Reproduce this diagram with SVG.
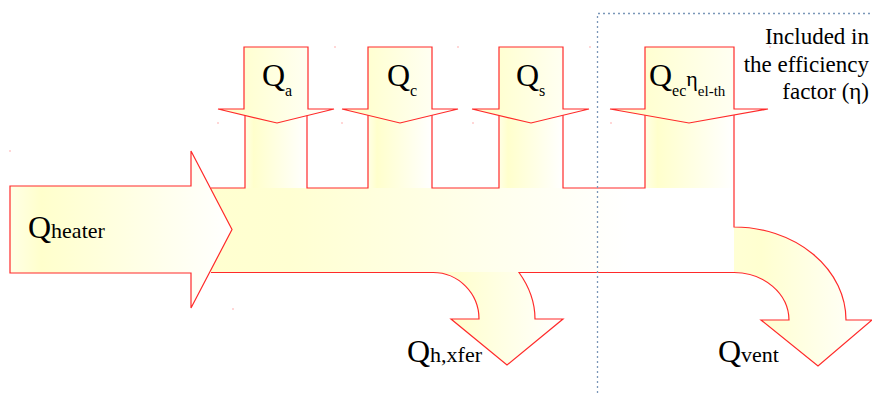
<svg xmlns="http://www.w3.org/2000/svg" width="872" height="393" viewBox="0 0 872 393">
<defs>
<linearGradient id="g" x1="0" y1="0" x2="1" y2="0">
<stop offset="0" stop-color="#ffffe6"/>
<stop offset="0.14" stop-color="#ffffcc"/>
<stop offset="1" stop-color="#ffffff"/>
</linearGradient>
<linearGradient id="gv" x1="0" y1="0" x2="1" y2="0">
<stop offset="0" stop-color="#ffffd4"/>
<stop offset="0.2" stop-color="#ffffd0"/>
<stop offset="1" stop-color="#ffffff"/>
</linearGradient>
<linearGradient id="gb" gradientUnits="userSpaceOnUse" x1="211" y1="0" x2="734" y2="0">
<stop offset="0" stop-color="#ffffd0"/>
<stop offset="0.15" stop-color="#ffffd2"/>
<stop offset="0.8" stop-color="#ffffff"/>
</linearGradient>
</defs>
<g id="flow">
<rect x="211" y="188" width="523" height="84.5" fill="url(#gb)"/>
<g fill="url(#g)">
<rect x="245" y="110" width="62" height="78"/>
<rect x="368" y="110" width="64" height="78"/>
<rect x="499" y="110" width="64" height="78"/>
<rect x="645" y="110" width="89" height="78"/>
</g>
<path fill="url(#gv)" d="M433,272 A46 46 0 0 1 479 319 H451 L507 365 L563 319 H535 C535,300 528,285 519,272 Z"/>
<path fill="url(#gv)" d="M734,227 A112 93 0 0 1 846 320 H872 L818 366 L761 320 H789 A55 48 0 0 0 734 272 Z"/>
<path fill="none" stroke="#ff2a2a" stroke-width="1.2" d="M211,188 H245 V112 M307,112 V188 H368 V112 M432,112 V188 H499 V112 M563,112 V188 H645 V112 M734,112 V227 A112 93 0 0 1 846 320 H872 L818 366 L761 320 H789 A55 48 0 0 0 734 272.5 H519 C528,285 535,300 535,319 H563 L507 365 L451 319 H479 A46 46.5 0 0 0 433 272.5 H211"/>
</g>
<g id="heater-arrow" fill="url(#g)" stroke="#ff2a2a" stroke-width="1.2"><path d="M10,186 H191 V151 L232 229.5 L191 308 V273 H10 Z"/></g>
<g id="qa-arrow" fill="url(#g)" stroke="#ff2a2a" stroke-width="1.2"><path d="M244,47 H308 V109 H334 L277 123 L218 109 H244 Z"/></g>
<g id="qc-arrow" fill="url(#g)" stroke="#ff2a2a" stroke-width="1.2"><path d="M368,47 H432 V109 H458 L400 123 L342 109 H368 Z"/></g>
<g id="qs-arrow" fill="url(#g)" stroke="#ff2a2a" stroke-width="1.2"><path d="M499,47 H563 V109 H589 L531 123 L472 109 H499 Z"/></g>
<g id="qec-arrow" fill="url(#g)" stroke="#ff2a2a" stroke-width="1.2"><path d="M645,47 H734 V109 H768 L689 123 L610 109 H645 Z"/></g>
<path id="boundary" d="M597.5,393 V13.5 H872" fill="none" stroke="#7a96b8" stroke-width="1.3" stroke-dasharray="2 3"/>
<text id="heater" x="28" y="238" font-family="Liberation Serif" font-size="22"><tspan font-size="32">Q</tspan>heater</text>
<text id="qa" x="262" y="86" font-family="Liberation Serif" font-size="32">Q<tspan font-size="16" dy="10">a</tspan></text>
<text id="qc" x="387" y="86" font-family="Liberation Serif" font-size="32">Q<tspan font-size="16" dy="10">c</tspan></text>
<text id="qs" x="516" y="86" font-family="Liberation Serif" font-size="32">Q<tspan font-size="16" dy="10">s</tspan></text>
<text id="qec" x="649" y="86" font-family="Liberation Serif" font-size="32">Q<tspan font-size="16" dy="10">ec</tspan><tspan font-size="22" dy="-10">η</tspan><tspan font-size="15" dy="10">el-th</tspan></text>
<text id="qh" x="407" y="362" font-family="Liberation Serif" font-size="22"><tspan font-size="32">Q</tspan>h,xfer</text>
<text id="qvent" x="718" y="362" font-family="Liberation Serif" font-size="22"><tspan font-size="32">Q</tspan>vent</text>
<text x="869" y="44" font-family="Liberation Serif" font-size="23" text-anchor="end">Included in</text>
<text x="869" y="72" font-family="Liberation Serif" font-size="23" text-anchor="end">the efficiency</text>
<text x="869" y="99" font-family="Liberation Serif" font-size="23" text-anchor="end">factor (η)</text>
<g id="marks" fill="#ff6060">
<rect x="9.5" y="150.5" width="1" height="1"/>
<rect x="232.5" y="308.5" width="1" height="1"/>
<rect x="217.5" y="122.5" width="1" height="1"/>
<rect x="334.5" y="46.5" width="1" height="1"/>
<rect x="341.5" y="122.5" width="1" height="1"/>
<rect x="457.5" y="46.5" width="1" height="1"/>
<rect x="472.5" y="122.5" width="1" height="1"/>
<rect x="589.5" y="46.5" width="1" height="1"/>
<rect x="610.5" y="122.5" width="1" height="1"/>
<rect x="769.5" y="46.5" width="1" height="1"/>
</g>
</svg>
